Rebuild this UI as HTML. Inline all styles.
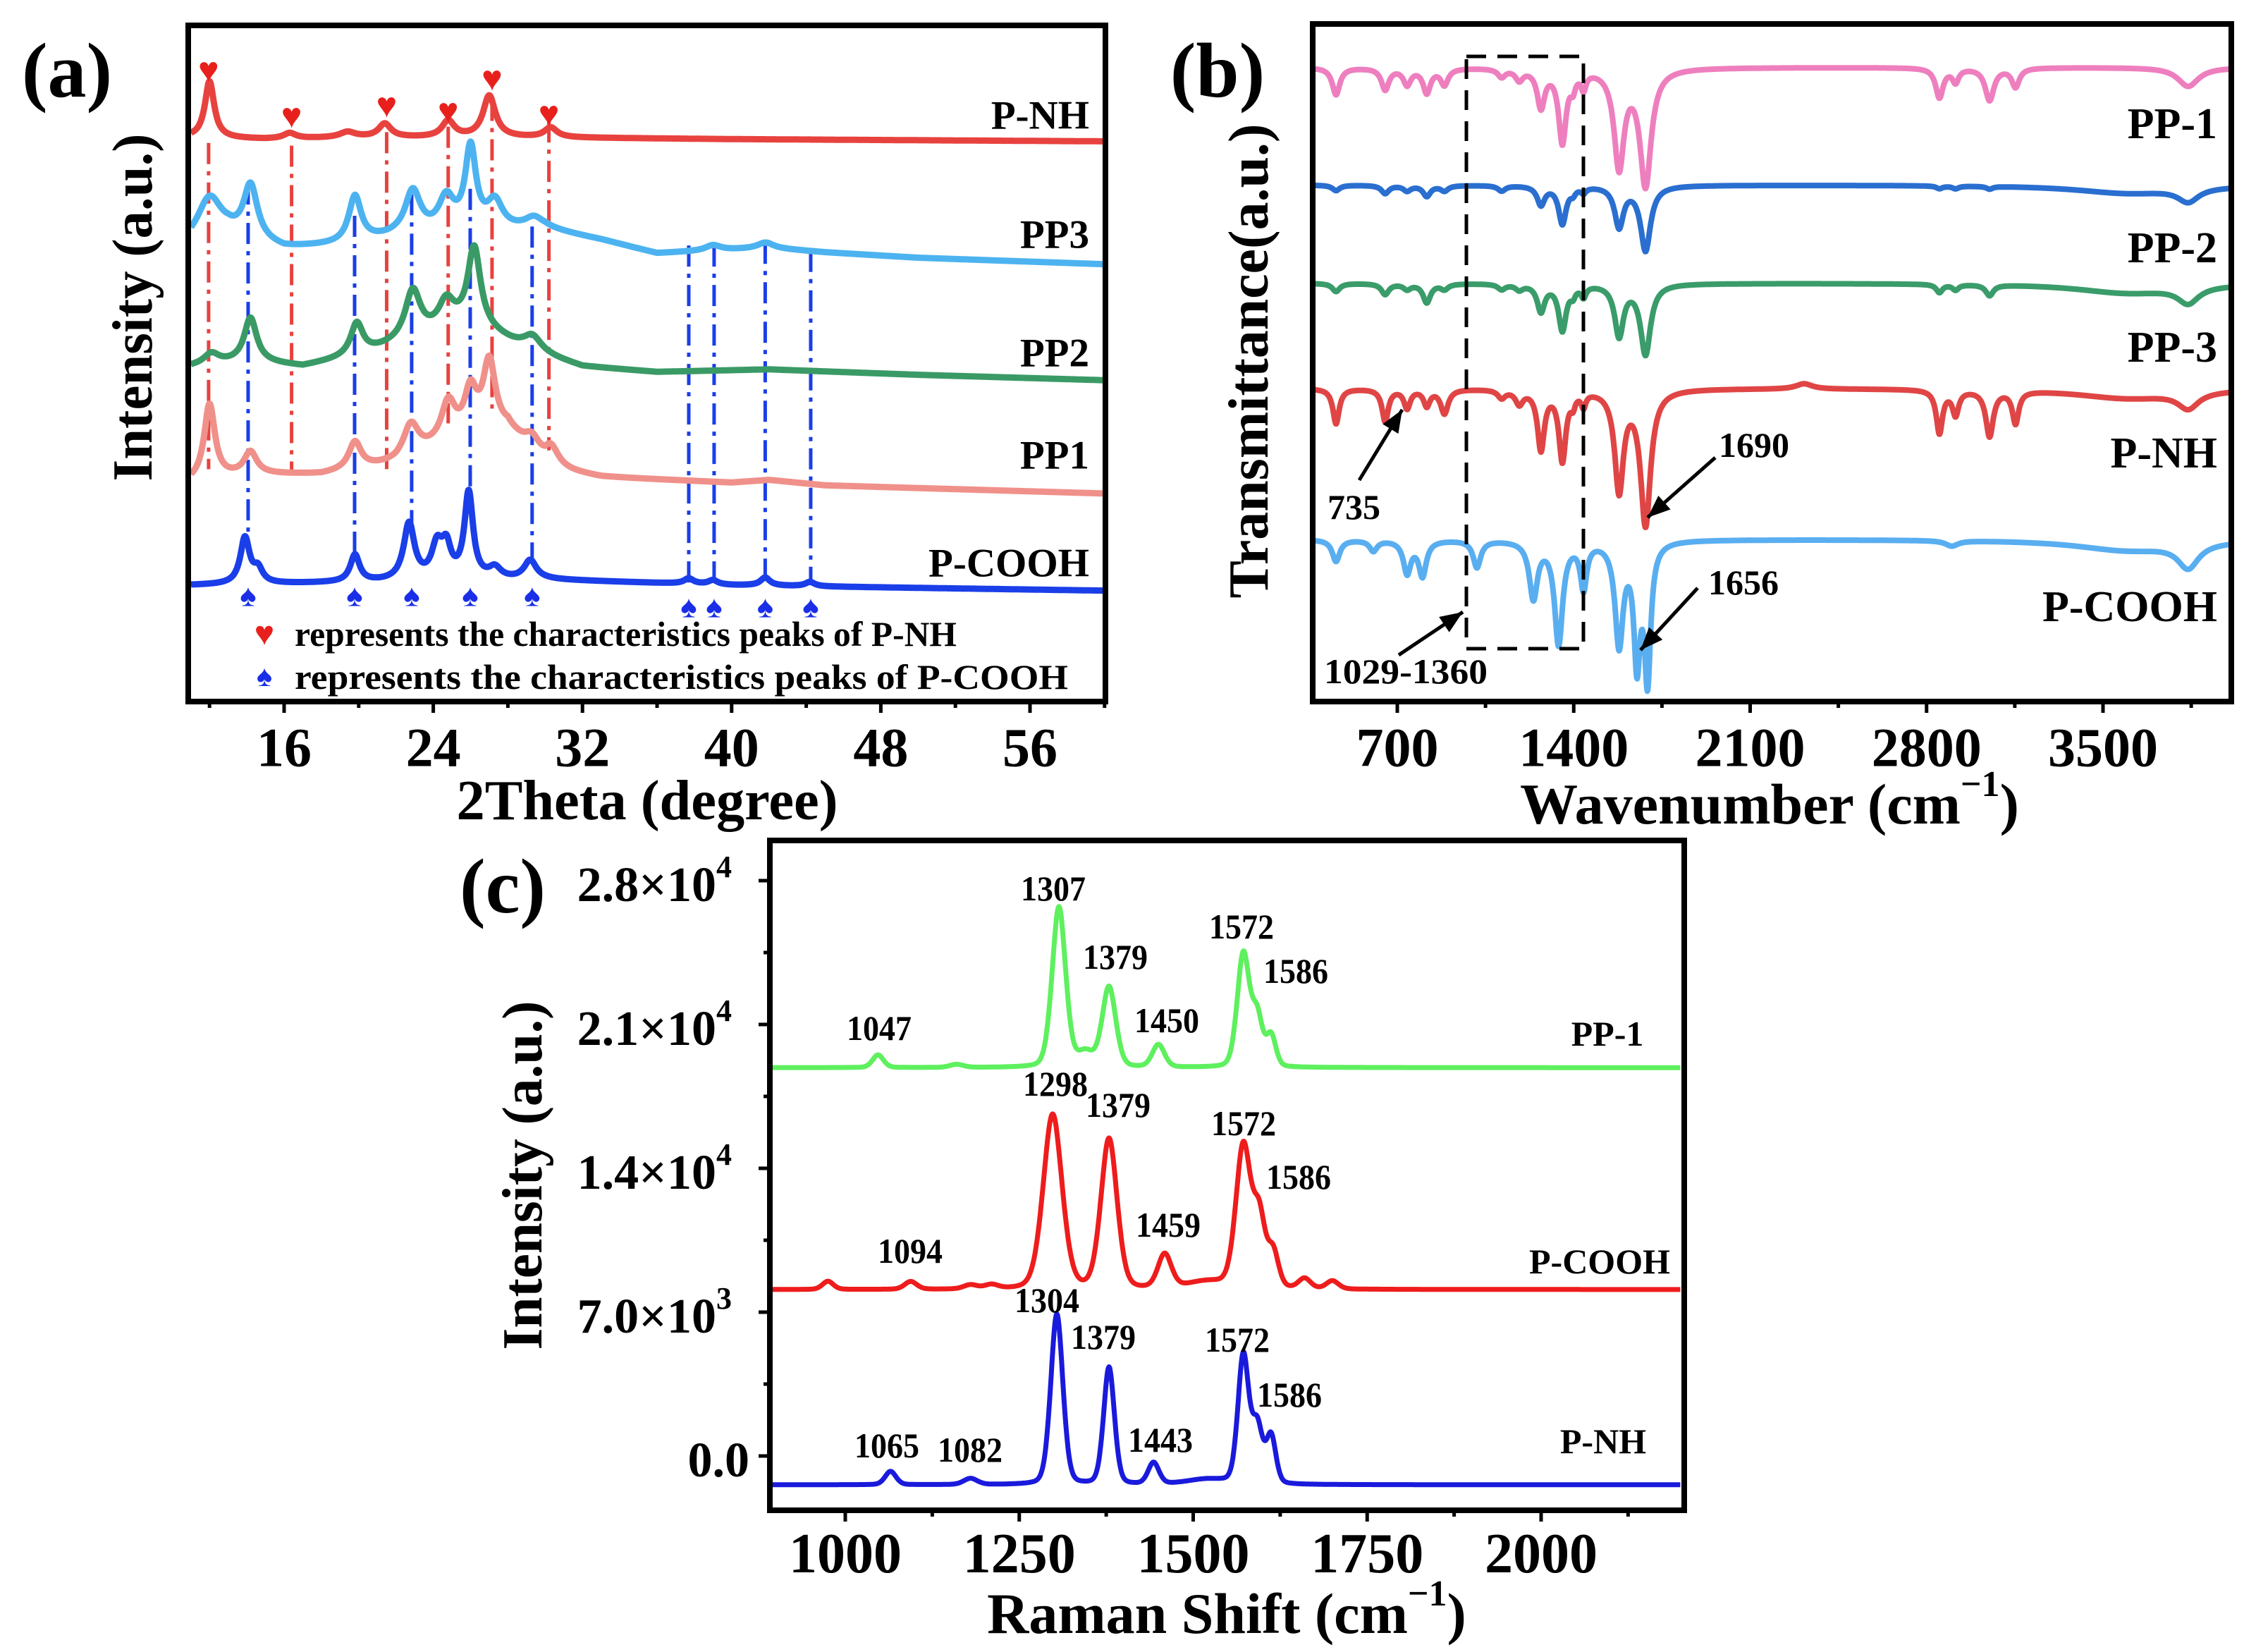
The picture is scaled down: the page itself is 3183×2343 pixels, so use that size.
<!DOCTYPE html>
<html><head><meta charset="utf-8"><style>
html,body{margin:0;padding:0;background:#fff;}
svg{display:block;font-family:"Liberation Serif",serif;font-weight:bold;}
</style></head><body>
<svg id="fig" width="3183" height="2343" viewBox="0 0 3183 2343" xmlns="http://www.w3.org/2000/svg">
<rect x="0" y="0" width="3183" height="2343" fill="#fff"/>
</svg>
<script>
// ---------- Panel (a) XRD data ----------
const xrdNames = ['P-NH','PP3','PP2','PP1','P-COOH'];
const xrdColors = ['#e8423f','#4db3f0','#3a9a66','#f0908a','#1a3ee8'];
const xrdBaseNH = [[11,255],[15,258],[20,255],[30,255],[40,258],[60,262]];
const xrdBasePP3 = [[11,455],[13,440],[16,462],[19,455],[22,440],[26,430],[30,425],[33,445],[36,470],[42,460],[45,468],[50,478],[60,490]];
const xrdBasePP2 = [[11,680],[14,670],[17,680],[20,660],[22,640],[26,600],[29,650],[32,680],[36,690],[42,685],[50,695],[60,705]];
const xrdBasePP1 = [[11,895],[14,880],[18,880],[22,860],[25,820],[28,800],[30,870],[33,885],[40,895],[42,890],[45,900],[60,915]];
const xrdBaseCOOH = [[11,1085],[20,1080],[30,1075],[40,1085],[60,1095]];
const xrdPeaksNH = [[12.0,105,0.3],[16.3,10,0.4],[19.4,10,0.5],[21.4,25,0.4],[24.8,30,0.4],[27.0,77,0.4],[30.3,18,0.4]];
const xrdPeaksPP3 = [[12.0,80,0.8],[14.2,100,0.45],[19.8,85,0.4],[22.9,80,0.5],[24.7,60,0.5],[26.0,150,0.35],[27.3,50,0.5],[29.4,20,0.6],[39.0,10,0.5],[41.8,10,0.5]];
const xrdPeaksPP2 = [[12.1,20,0.5],[14.2,80,0.4],[19.9,60,0.4],[22.9,90,0.5],[24.7,50,0.5],[26.2,140,0.4],[29.3,30,0.6]];
const xrdPeaksPP1 = [[12.0,140,0.35],[14.2,40,0.4],[19.8,50,0.4],[22.8,60,0.5],[24.8,70,0.45],[26.0,80,0.4],[27.0,130,0.4],[29.3,30,0.5],[30.3,40,0.5]];
const xrdPeaksCOOH = [[13.9,85,0.3],[14.6,25,0.3],[19.8,50,0.3],[22.7,105,0.35],[24.2,60,0.35],[24.7,55,0.3],[25.9,160,0.28],[27.3,20,0.4],[29.2,35,0.4],[37.7,10,0.3],[39.0,8,0.3],[41.8,15,0.3],[44.2,8,0.3]];
const xrdTicks = [16,24,32,40,48,56];
const nhMarks = [11.95,16.4,21.5,24.8,27.15,30.2];
const coohMarks = [14.07,19.78,22.84,25.98,29.3,37.7,39.06,41.8,44.24];

// ---------- Panel (b) FTIR data ----------
const irNames = ['PP-1','PP-2','PP-3','P-NH','P-COOH'];
const irColors = ['#ee7fbf','#2a6fd0','#3a9c6a','#e04545','#59aef0'];
const irBase = [125,343,525,720,1000];
const irDipsPP1 = [[457,50,12],[652,40,12],[739,30,12],[817,45,12],[887,30,12],[1114,15,12],[1184,20,12],[1270,70,12],[1355,135,12],[1397,25,8],[1439,30,8],[1580,180,16],[1685,215,18],[2851,55,12],[2915,25,10],[3050,60,14],[3153,35,12],[3838,35,50]];
const irDipsPP2 = [[457,10,12],[652,15,12],[739,10,12],[817,20,12],[887,10,12],[1114,10,12],[1270,35,12],[1355,70,12],[1397,10,8],[1439,10,8],[1580,75,14],[1685,120,16],[2851,5,10],[2915,5,10],[3050,5,10],[3600,15,250],[3838,25,50]];
const irDipsPP3 = [[457,15,12],[652,20,12],[739,10,12],[817,35,12],[887,10,12],[1114,10,12],[1184,10,12],[1270,50,12],[1355,85,12],[1397,15,8],[1439,20,8],[1580,95,14],[1685,130,16],[2851,15,10],[2915,10,10],[3050,20,12],[3600,18,250],[3838,30,50]];
const irDipsNH = [[457,65,10],[652,60,10],[739,35,10],[817,30,10],[887,45,12],[1114,15,12],[1184,25,12],[1270,110,11],[1355,130,11],[1397,20,7],[1439,25,7],[1580,185,14],[1685,250,16],[2314,-10,40],[2851,80,10],[2915,45,10],[3050,85,12],[3153,60,10],[3600,18,250],[3838,30,50]];
const irDipsCOOH = [[457,40,12],[605,20,12],[739,60,12],[800,65,12],[1016,50,12],[1240,105,13],[1340,190,13],[1439,85,10],[1580,190,13],[1651,215,10],[1693,250,10],[2900,10,20],[3600,20,250],[3838,45,50]];
const irTicks = [700,1400,2100,2800,3500];

// ---------- Panel (c) Raman data ----------
const ramanNames = ['PP-1','P-COOH','P-NH'];
const ramanColors = ['#5ef05e','#ee1c1c','#1a1adc'];
const ramanBase = [18900,8100,-1400];
const ramanPeaksPP1 = [[1047,620,8],[1160,150,10],[1307,7800,10],[1345,700,12],[1379,3900,10],[1450,1100,9],[1572,5500,9],[1592,2400,8],[1612,1500,7]];
const ramanPeaksCOOH = [[975,400,8],[1094,380,9],[1180,200,10],[1210,200,10],[1298,8500,14],[1379,7300,12],[1459,1650,10],[1520,350,30],[1572,6900,11],[1595,3300,9],[1615,1700,8],[1660,500,9],[1700,400,9]];
const ramanPeaksNH = [[1065,650,8],[1180,300,10],[1304,8300,9],[1379,5700,8],[1443,1050,8],[1520,250,30],[1572,6200,8],[1592,2800,8],[1612,2300,7]];
const ramanXTicks = [1000,1250,1500,1750,2000];
const ramanYTicks = [0,7000,14000,21000,28000];
const ramanYTickLabels = ['0.0','7.0×10','1.4×10','2.1×10','2.8×10'];
const ramanYTickExp = ['','3','4','4','4'];

const svg = document.getElementById('fig');
const NS = 'http://www.w3.org/2000/svg';
function mk(tag, name, attrs, parent) {
  const el = document.createElementNS(NS, tag);
  
  
  for (const k in attrs) el.setAttribute(k, attrs[k]);
  (parent || svg).appendChild(el);
  return el;
}
function txt(name, x, y, s, size, anchor, len, rot, fill) {
  const a = {x: x, y: y, 'font-size': size, 'text-anchor': anchor || 'middle', 'dominant-baseline': 'central', fill: fill || '#000'};
  if (len) { a.textLength = len; a.lengthAdjust = 'spacingAndGlyphs'; }
  if (rot) a.transform = 'rotate(' + rot + ' ' + x + ' ' + y + ')';
  const t = mk('text', name, a);
  t.textContent = s;
  return t;
}
function interp(base, x) {
  for (let i = 0; i < base.length - 1; i++) {
    if (x >= base[i][0] && x <= base[i+1][0]) {
      const f = (x - base[i][0]) / (base[i+1][0] - base[i][0]);
      return base[i][1] + f * (base[i+1][1] - base[i][1]);
    }
  }
  return x < base[0][0] ? base[0][1] : base[base.length-1][1];
}
function lor(x, p, k) { const w = p[2]*(k||1); return p[1] * w*w / ((x-p[0])*(x-p[0]) + w*w); }
function pv(x, p) { const g = Math.exp(-(x-p[0])*(x-p[0])/(2*p[2]*p[2])); const l = p[2]*p[2]/((x-p[0])*(x-p[0]) + p[2]*p[2]); return p[1]*(0.75*g + 0.25*l); }
function pathD(pts) { return pts.map((p,i)=>(i?'L':'M')+p[0].toFixed(1)+' '+p[1].toFixed(1)).join(''); }

// ================= Panel (a) =================
const xa = v => 403 + (v - 16) * 26.45;
const ya = z => z * 0.765;
const A = {l:267, r:1568, t:36, b:995};
const xrdBases = [xrdBaseNH, xrdBasePP3, xrdBasePP2, xrdBasePP1, xrdBaseCOOH];
const xrdPeaks = [xrdPeaksNH, xrdPeaksPP3, xrdPeaksPP2, xrdPeaksPP1, xrdPeaksCOOH];
const nhLineY = [[265,870],[270,880],[245,870],[235,785],[185,760],[225,835]];
nhMarks.forEach((m,i)=>{
  mk('line','pnh-guide-line',{x1:xa(m),x2:xa(m),y1:ya(nhLineY[i][0]),y2:ya(nhLineY[i][1]),stroke:'#e8423f','stroke-width':5,'stroke-dasharray':'30 10 6 10'});
});
const coohLineY = [[340,1000],[400,1040],[360,990],[350,930],[420,1050],[455,1080],[455,1080],[450,1075],[465,1085]];
coohMarks.forEach((m,i)=>{
  mk('line','pcooh-guide-line',{x1:xa(m),x2:xa(m),y1:ya(coohLineY[i][0]),y2:ya(coohLineY[i][1]),stroke:'#1a3ee8','stroke-width':5,'stroke-dasharray':'30 10 6 10'});
});
xrdNames.forEach((n,si)=>{
  const pts = [];
  for (let v = 11; v <= 60; v += 0.03) {
    let z = interp(xrdBases[si], v);
    xrdPeaks[si].forEach(p=>{ z -= lor(v,p); });
    pts.push([xa(v), ya(z)]);
  }
  mk('path','xrd-curve-'+n.toLowerCase(),{d:pathD(pts),fill:'none',stroke:xrdColors[si],'stroke-width':9,'stroke-linejoin':'round'});
});
const heartY = [99,164,149,157,111,161];
nhMarks.forEach((m,i)=>{ txt('pnh-peak-marker', xa(m), heartY[i], '♥', 50, 'middle', null, null, '#e8201c'); });
coohMarks.forEach((m,i)=>{ txt('pcooh-peak-marker', xa(m), i<5?845:861, '♠', 44, 'middle', null, null, '#1a2ee8'); });
mk('rect','panel-a-frame',{x:A.l,y:A.t,width:A.r-A.l,height:A.b-A.t,fill:'none',stroke:'#000','stroke-width':8});
for (let v = 12; v <= 60; v += 4) {
  const maj = xrdTicks.includes(v);
  mk('line','x-tick-a',{x1:xa(v),x2:xa(v),y1:A.b,y2:A.b+(maj?16:9),stroke:'#000','stroke-width':5});
}
xrdTicks.forEach(v=>txt('x-tick-label-a', xa(v), 1060, String(v), 78));
txt('x-axis-title-a', 918, 1136, '2Theta (degree)', 80, 'middle', 541);
txt('y-axis-title-a', 189, 436, 'Intensity (a.u.)', 80, 'middle', 493, -90);
txt('panel-label-a', 95, 100, '(a)', 110);
const xrdLabelY = [164,333,501,646,799];
xrdNames.forEach((n,i)=>txt('series-label-a', 1545, xrdLabelY[i], n, 57, 'end'));
txt('legend-heart', 375, 899, '♥', 48, 'middle', null, null, '#e8201c');
txt('legend-text-pnh', 418, 899, 'represents the characteristics peaks of P-NH', 50, 'start', 939);
txt('legend-spade', 375, 960, '♠', 42, 'middle', null, null, '#1a2ee8');
txt('legend-text-pcooh', 418, 960, 'represents the characteristics peaks of P-COOH', 50, 'start', 1097);

// ================= Panel (b) =================
const xb = v => 1982 + (v - 700) * 0.3575;
const yb = z => z * 0.765;
const B = {l:1862, r:3165, t:34, b:995};
const irDips = [irDipsPP1, irDipsPP2, irDipsPP3, irDipsNH, irDipsCOOH];
irNames.forEach((n,si)=>{
  const pts = [];
  for (let v = 370; v <= 4000; v += 2) {
    let z = irBase[si];
    irDips[si].forEach(p=>{ z += lor(v,p,p[2] < 40 ? 1.5 : 1); });
    pts.push([xb(v), yb(z)]);
  }
  mk('path','ir-curve-'+n.toLowerCase(),{d:pathD(pts),fill:'none',stroke:irColors[si],'stroke-width':8,'stroke-linejoin':'round'});
});
mk('rect','highlight-box',{x:2080,y:80,width:166,height:840,fill:'none',stroke:'#000','stroke-width':5,'stroke-dasharray':'28 16'});
mk('rect','panel-b-frame',{x:B.l,y:B.t,width:B.r-B.l,height:B.b-B.t,fill:'none',stroke:'#000','stroke-width':8});
for (let v = 350; v <= 4000; v += 350) {
  const maj = irTicks.includes(v);
  if (xb(v) < B.l || xb(v) > B.r) continue;
  mk('line','x-tick-b',{x1:xb(v),x2:xb(v),y1:B.b,y2:B.b+(maj?16:9),stroke:'#000','stroke-width':5});
}
irTicks.forEach(v=>txt('x-tick-label-b', xb(v), 1060, String(v), 78));
const tb = txt('x-axis-title-b', 2510, 1140, '', 82, 'middle');
const tb1 = mk('tspan','x-title-b-main',{}, tb); tb1.textContent = 'Wavenumber (cm';
const tb2 = mk('tspan','x-title-b-exp',{'font-size':52,dy:-28}, tb); tb2.textContent = '−1';
const tb3 = mk('tspan','x-title-b-close',{dy:28}, tb); tb3.textContent = ')';
txt('y-axis-title-b', 1772, 512, 'Transmittance(a.u.)', 80, 'middle', 673, -90);
txt('panel-label-b', 1727, 100, '(b)', 110);
const irLabelY = [176,352,493,643,861];
irNames.forEach((n,i)=>txt('series-label-b', 3145, irLabelY[i], n, 62, 'end'));
txt('annotation-1690', 2438, 631, '1690', 50, 'start');
txt('annotation-735', 1883, 719, '735', 50, 'start');
txt('annotation-1656', 2423, 826, '1656', 50, 'start');
txt('annotation-1029-1360', 1878, 952, '1029-1360', 50, 'start', 232);
const arrows = [[2433,649,2337,734],[1928,681,1989,581],[2408,834,2327,922],[1984,929,2075,868]];
arrows.forEach(a=>{
  mk('line','annotation-arrow',{x1:a[0],y1:a[1],x2:a[2],y2:a[3],stroke:'#000','stroke-width':5});
  const ang = Math.atan2(a[3]-a[1], a[2]-a[0]);
  const L = 32, W = 13;
  const bx = a[2]-L*Math.cos(ang), by = a[3]-L*Math.sin(ang);
  const px = -Math.sin(ang)*W, py = Math.cos(ang)*W;
  mk('polygon','annotation-arrowhead',{points:a[2]+','+a[3]+' '+(bx+px)+','+(by+py)+' '+(bx-px)+','+(by-py),fill:'#000'});
});

// ================= Panel (c) =================
const xc = v => 1199 + (v - 1000) * 0.987;
const yc = v => 2065 - v * 816 / 28000;
const C = {l:1092, r:2389, t:1192, b:2142};
const ramanPeaks = [ramanPeaksPP1, ramanPeaksCOOH, ramanPeaksNH];
ramanNames.forEach((n,si)=>{
  const pts = [];
  for (let v = 895; v <= 2200; v += 1) {
    let y = ramanBase[si];
    ramanPeaks[si].forEach(p=>{ y += pv(v,p); });
    pts.push([xc(v), yc(y)]);
  }
  mk('path','raman-curve-'+n.toLowerCase(),{d:pathD(pts),fill:'none',stroke:ramanColors[si],'stroke-width':7,'stroke-linejoin':'round'});
});
mk('rect','panel-c-frame',{x:C.l,y:C.t,width:C.r-C.l,height:C.b-C.t,fill:'none',stroke:'#000','stroke-width':8});
for (let v = 1000; v <= 2200; v += 125) {
  const maj = ramanXTicks.includes(v);
  mk('line','x-tick-c',{x1:xc(v),x2:xc(v),y1:C.b,y2:C.b+(maj?16:9),stroke:'#000','stroke-width':5});
}
for (let v = -3500; v <= 28000; v += 3500) {
  if (yc(v) > C.b || yc(v) < C.t) continue;
  const maj = ramanYTicks.includes(v);
  mk('line','y-tick-c',{x1:C.l,x2:C.l-(maj?16:9),y1:yc(v),y2:yc(v),stroke:'#000','stroke-width':5});
}
ramanXTicks.forEach(v=>txt('x-tick-label-c', xc(v), 2204, String(v), 80));
ramanYTicks.forEach((v,i)=>{
  const t = txt('y-tick-label-c', ramanYTickExp[i] ? 1038 : 1063, yc(v)+6, '', 70, 'end');
  const s1 = mk('tspan','y-tick-mantissa',{}, t); s1.textContent = ramanYTickLabels[i];
  if (ramanYTickExp[i]) { const s2 = mk('tspan','y-tick-exponent',{'font-size':44,dy:-26}, t); s2.textContent = ramanYTickExp[i]; }
});
const tc = txt('x-axis-title-c', 1740, 2288, '', 82, 'middle');
const tc1 = mk('tspan','x-title-c-main',{}, tc); tc1.textContent = 'Raman Shift (cm';
const tc2 = mk('tspan','x-title-c-exp',{'font-size':52,dy:-28}, tc); tc2.textContent = '−1';
const tc3 = mk('tspan','x-title-c-close',{dy:28}, tc); tc3.textContent = ')';
txt('y-axis-title-c', 742, 1667, 'Intensity (a.u.)', 80, 'middle', 495, -90);
txt('panel-label-c', 713, 1257, '(c)', 110);
const ramanLabels = [['1307',1494,1260],['1379',1582,1357],['1572',1761,1314],['1586',1838,1377],['1450',1655,1447],['1047',1247,1458],['1298',1497,1537],['1379',1586,1567],['1572',1764,1593],['1586',1842,1669],['1459',1657,1737],['1094',1291,1774],['1304',1485,1844],['1379',1565,1896],['1572',1755,1900],['1586',1829,1978],['1443',1646,2042],['1065',1258,2050],['1082',1376,2056]];
ramanLabels.forEach(l=>txt('peak-label-c', l[1], l[2], l[0], 50, 'middle', 92));
txt('series-label-c', 2280, 1466, 'PP-1', 50, 'middle');
txt('series-label-c', 2269, 1789, 'P-COOH', 50, 'middle');
txt('series-label-c', 2274, 2044, 'P-NH', 50, 'middle');
</script>
</body></html>
